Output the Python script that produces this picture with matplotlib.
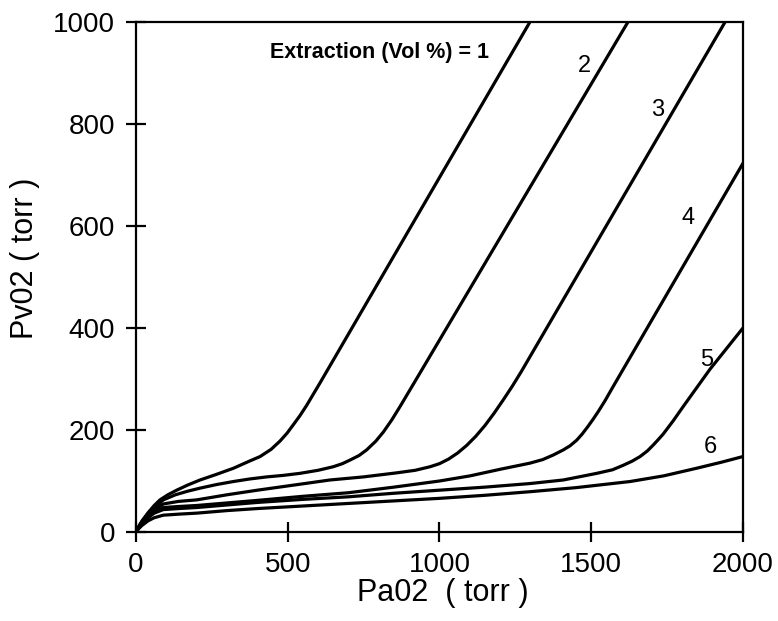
import matplotlib
matplotlib.use("Agg")
import matplotlib.pyplot as plt

plt.rcParams['font.family'] = ['Liberation Sans', 'DejaVu Sans']

# PaO2 / PvO2 points (torr), one curve per extraction value
c1_x = [0, 8, 20, 40, 60, 79, 105, 134, 170, 211, 265, 321, 370, 409, 445, 474, 498,
        518, 540, 562, 584, 606, 694, 1298]
c1_y = [0, 10, 22, 38, 52, 63, 73, 82, 92, 102, 113, 125, 138, 148, 162, 178, 194,
        210, 228, 248, 270, 292, 382, 1000]

c2_x = [0, 8, 20, 40, 60, 90, 130, 170, 211, 265, 321, 375, 430, 485, 540, 600, 650,
        680, 705, 735, 760, 790, 815, 843, 870, 895, 919, 1621]
c2_y = [0, 9, 21, 36, 48, 63, 73, 80, 86, 93, 99, 104, 108, 111, 115, 121, 128,
        134, 141, 150, 161, 178, 196, 220, 246, 271, 295, 1000]

c3_x = [0, 8, 20, 40, 60, 90, 140, 200, 300, 400, 520, 639, 749, 859, 920, 969, 1000,
        1030, 1060, 1090, 1120, 1150, 1180, 1210, 1240, 1270, 1941]
c3_y = [0, 8, 19, 33, 44, 55, 60, 63, 73, 82, 92, 102, 108, 116, 121, 128, 134,
        143, 155, 170, 188, 209, 233, 259, 286, 315, 1000]

c4_x = [0, 8, 20, 40, 60, 90, 140, 200, 300, 400, 550, 700, 850, 1000, 1100, 1200, 1298,
        1340, 1375, 1408, 1430, 1452, 1470, 1488, 1506, 1524, 1545, 1570, 2000]
c4_y = [0, 7, 17, 30, 40, 48, 50, 52, 57, 62, 70, 77, 88, 100, 110, 123, 135,
        142, 151, 161, 169, 180, 192, 206, 221, 237, 257, 283, 723]

c5_x = [0, 8, 20, 40, 60, 90, 140, 200, 300, 400, 550, 700, 850, 1000, 1150, 1298, 1408,
        1518, 1570, 1606, 1635, 1661, 1685, 1705, 1722, 1737, 1770, 1803, 1850, 1891, 2000]
c5_y = [0, 7, 16, 28, 37, 44, 46, 48, 53, 58, 64, 69, 76, 82, 88, 95, 102,
        115, 122, 131, 139, 148, 159, 171, 182, 192, 218, 246, 285, 319, 400]

c6_x = [0, 8, 20, 40, 60, 90, 140, 200, 300, 400, 550, 700, 850, 1000, 1150, 1298, 1450,
        1628, 1738, 1847, 1930, 2000]
c6_y = [0, 6, 13, 22, 28, 33, 35, 37, 42, 46, 51, 56, 61, 66, 72, 79, 87,
        99, 110, 125, 137, 148]

curves = [(c1_x, c1_y), (c2_x, c2_y), (c3_x, c3_y),
          (c4_x, c4_y), (c5_x, c5_y), (c6_x, c6_y)]

# curve numbers and where they sit
labels = ["2", "3", "4", "5", "6"]
label_x = [1476, 1720, 1820, 1881, 1891]
label_y = [914, 827, 616, 337, 167]

x_ticks = [0, 500, 1000, 1500, 2000]
y_ticks = [0, 200, 400, 600, 800, 1000]

fig = plt.figure(figsize=(7.78, 6.21), dpi=100)
ax = fig.add_axes([0.1748, 0.1433, 0.7802, 0.8213])

for cx, cy in curves:
    ax.plot(cx, cy, color='black', lw=2.3, solid_capstyle='round', solid_joinstyle='round')

ax.text(441, 941, "Extraction (Vol %) = 1", fontsize=15.5, fontweight='bold',
        ha='left', va='center')
for t, lx, ly in zip(labels, label_x, label_y):
    ax.text(lx, ly, t, fontsize=17, ha='center', va='center')

ax.set_xlim(0, 2000)
ax.set_ylim(0, 1000)
ax.set_xticks(x_ticks)
ax.set_yticks(y_ticks)
ax.tick_params(direction='inout', length=15, width=1.6, labelsize=20, color='black')
ax.tick_params(axis='x', pad=7)
ax.tick_params(axis='y', pad=7.5)
for s in ax.spines.values():
    s.set_linewidth(1.6)

ax.set_xlabel("Pa02  ( torr )", fontsize=22)
ax.set_ylabel("Pv02 ( torr )", fontsize=22)
ax.xaxis.label.set_va('center')
ax.yaxis.label.set_va('center')
ax.xaxis.set_label_coords(0.505, -0.12)
ax.yaxis.set_label_coords(-0.183, 0.537)

fig.savefig("out.png", dpi=100)
